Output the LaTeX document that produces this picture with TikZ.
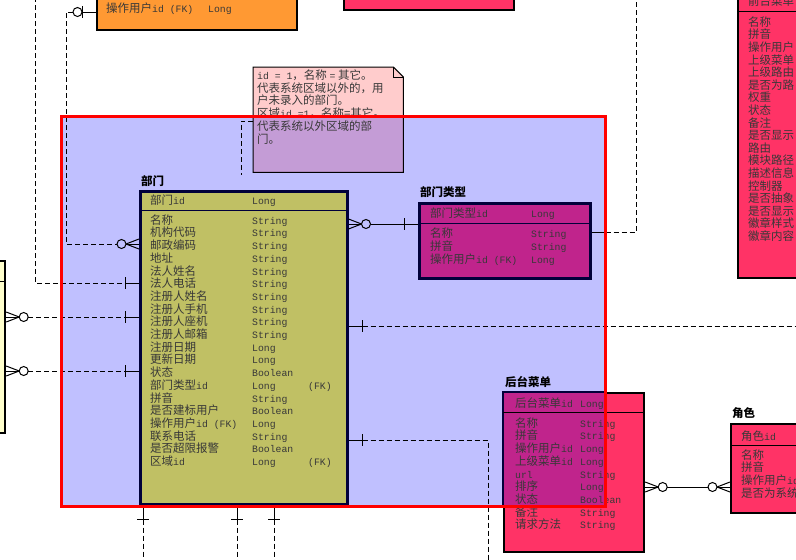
\documentclass[tikz,border=0pt]{standalone}
\usepackage{fontspec}
\setmainfont{Noto Sans CJK SC}
\newfontfamily\ltfont{Liberation Mono}
\usetikzlibrary{calc}
\newcommand\lt[1]{{\ltfont\fontsize{9.8}{12.7}\selectfont #1}}
\definecolor{ovl}{HTML}{C0C0FF}
\definecolor{olive}{HTML}{C0C064}
\definecolor{navyb}{HTML}{00003A}
\definecolor{magt}{HTML}{C0248C}
\definecolor{pinkb}{HTML}{FF3366}
\definecolor{orng}{HTML}{FF9933}
\definecolor{lyel}{HTML}{FFFFCC}
\definecolor{notep}{HTML}{FFCCCC}
\definecolor{notev}{HTML}{C49CD6}
\tikzset{
  txt/.style={inner sep=0pt, anchor=base west, font=\fontsize{11.5}{12.7}\selectfont, text=black!78},
  ttl/.style={inner sep=0pt, anchor=base west, font=\fontsize{11.5}{12.7}\selectfont\bfseries, text=black},
  entbox/.style={draw=black, line width=2.2pt, inner sep=0pt, anchor=north west},
  rel/.style={line width=1pt, draw=black},
  dsh/.style={rel, dash pattern=on 5pt off 3pt},
  sep/.style={line width=1pt},
}
% relationship end marks
\newcommand\oneH[2]{%
  \draw[rel] (#1) -- ($(#1)+(#2*14,0)$);
  \draw[rel] ($(#1)+(#2*14,-6)$) -- ($(#1)+(#2*14,6)$);}
\newcommand\oneV[1]{%
  \draw[rel] (#1) -- ($(#1)+(0,14)$);
  \draw[rel] ($(#1)+(-6,14)$) -- ($(#1)+(6,14)$);}
\newcommand\manyH[2]{%
  \draw[rel] (#1) -- ($(#1)+(#2*13,0)$);
  \draw[rel] ($(#1)+(0,-5)$) -- ($(#1)+(#2*13,0)$) -- ($(#1)+(0,5)$);}
\newcommand\zeroH[4]{%
  \draw[rel, fill=#4] ($(#1)+(#2*#3,0)$) circle[radius=4.5pt];}
\begin{document}
\begin{tikzpicture}[x=1pt,y=-1pt]
\useasboundingbox (0,0) rectangle (796,560);
\fill[white] (0,0) rectangle (796,560);
% overlay background
\fill[ovl] (61,116) rectangle (605,506);

% ---- boxes outside the overlay
\node[entbox, fill=orng, minimum width=200pt, minimum height=90pt] (orange) at (96,-61) {};
\node[entbox, fill=pinkb, minimum width=170pt, minimum height=70pt] (toppink) at (343,-61) {};
\node[entbox, fill=pinkb, minimum width=100pt, minimum height=338pt] (front) at (737,-61) {};
\draw[sep] (front.west |- 0,11) -- (front.east |- 0,11);
\node[entbox, fill=pinkb, minimum width=100pt, minimum height=89pt] (role) at (730,423) {};
\draw[sep] (role.west |- 0,445) -- (role.east |- 0,445);
\node[entbox, fill=lyel, minimum width=60pt, minimum height=172pt] (ly) at (-56,260) {};
\draw[sep] (ly.west |- 0,281) -- (ly.east |- 0,281);

% ---- note
\node[inner sep=0pt, minimum width=150pt, minimum height=105pt, anchor=north west] (note) at (253,67) {};
\fill[notep] (note.north west) -- ($(note.north east)+(-10,0)$) -- ($(note.north east)+(0,10)$) -- (note.south east) -- (note.south west) -- cycle;
\begin{scope}
  \clip (61,116) rectangle (605,506);
  \fill[notev] (note.north west) -- ($(note.north east)+(-10,0)$) -- ($(note.north east)+(0,10)$) -- (note.south east) -- (note.south west) -- cycle;
\end{scope}
\draw[line width=1pt] (note.north west) -- ($(note.north east)+(-10,0)$) -- ($(note.north east)+(0,10)$) -- (note.south east) -- (note.south west) -- cycle;
\draw[line width=0.8pt] ($(note.north east)+(-10,0)$) -- ($(note.north east)+(-10,10)$) -- ($(note.north east)+(0,10)$);

% ---- 后台菜单 (partly under overlay)
\node[entbox, fill=pinkb, minimum width=140pt, minimum height=159pt] (bm) at (503,392) {};
\begin{scope}
  \clip (61,116) rectangle (605,506);
  \fill[magt] (bm.north west) rectangle (bm.south east);
  \draw[navyb, line width=2.2pt] (bm.north west) rectangle (bm.south east);
\end{scope}
\draw[sep] (bm.west |- 0,412) -- (bm.east |- 0,412);

% ---- entities inside overlay
\node[entbox, draw=navyb, line width=2.5pt, fill=olive, minimum width=207pt, minimum height=313pt] (dept) at (139,190) {};
\draw[sep, navyb] (dept.west |- 0,210.7) -- (dept.east |- 0,210.7);
\node[entbox, draw=navyb, line width=2.5pt, fill=magt, minimum width=171pt, minimum height=75pt] (dtype) at (418,202) {};
\draw[sep, navyb] (dtype.west |- 0,223) -- (dtype.east |- 0,223);

% ---- relationships
% orange -> 部门
\coordinate (o1) at (orange.west |- 0,12);
\coordinate (d1) at (dept.west |- 0,244);
\oneH{o1}{-1}
\zeroH{o1}{-1}{18.5}{white}
\manyH{d1}{-1}
\zeroH{d1}{-1}{17.5}{ovl}
\draw[dsh] ($(o1)+(-23,0)$) -- ($(o1)+(-30,0)$) |- ($(d1)+(-22,0)$);
% top-left -> 部门
\coordinate (d2) at (dept.west |- 0,283);
\coordinate (ftop1) at (35,-3);
\oneH{d2}{-1}
\draw[dsh] (ftop1) |- ($(d2)+(-14,0)$);
% left entity -> 部门
\coordinate (l1) at (ly.east |- 0,317);
\coordinate (d3) at (dept.west |- 0,317);
\manyH{l1}{1}
\zeroH{l1}{1}{17.5}{white}
\oneH{d3}{-1}
\draw[dsh] ($(l1)+(22,0)$) -- ($(d3)+(-14,0)$);
\coordinate (l2) at (ly.east |- 0,371);
\coordinate (d4) at (dept.west |- 0,371);
\manyH{l2}{1}
\zeroH{l2}{1}{17.5}{white}
\oneH{d4}{-1}
\draw[dsh] ($(l2)+(22,0)$) -- ($(d4)+(-14,0)$);
% 部门 -> 部门类型
\coordinate (d5) at (dept.east |- 0,224);
\coordinate (t1) at (dtype.west |- 0,224);
\manyH{d5}{1}
\zeroH{d5}{1}{17.5}{ovl}
\oneH{t1}{-1}
\draw[rel] ($(d5)+(22,0)$) -- ($(t1)+(-14,0)$);
% 部门类型 -> up
\coordinate (t2) at (dtype.east |- 0,232);
\coordinate (ftop2) at (636,-3);
\oneH{t2}{1}
\draw[dsh] ($(t2)+(14,0)$) -| (ftop2);
% 部门 -> right
\coordinate (d6) at (dept.east |- 0,326);
\coordinate (fr1) at (800,326);
\oneH{d6}{1}
\draw[dsh] ($(d6)+(14,0)$) -- (fr1);
% 部门 -> down right
\coordinate (d7) at (dept.east |- 0,440);
\coordinate (fb1) at (488,563);
\oneH{d7}{1}
\draw[dsh] ($(d7)+(14,0)$) -| (fb1);
% 部门 bottom
\coordinate (d8) at (dept.south -| 143,0);
\coordinate (d9) at (dept.south -| 237,0);
\coordinate (d10) at (dept.south -| 274,0);
\coordinate (fb2) at (143,563);
\coordinate (fb3) at (237,563);
\coordinate (fb4) at (274,563);
\oneV{d8} \oneV{d9} \oneV{d10}
\draw[dsh] ($(d8)+(0,14)$) -- (fb2);
\draw[dsh] ($(d9)+(0,14)$) -- (fb3);
\draw[dsh] ($(d10)+(0,14)$) -- (fb4);
% 后台菜单 -> 角色
\coordinate (b1) at (bm.east |- 0,487);
\coordinate (r1) at (role.west |- 0,487);
\manyH{b1}{1}
\zeroH{b1}{1}{17.5}{white}
\manyH{r1}{-1}
\zeroH{r1}{-1}{17.5}{white}
\draw[rel] ($(b1)+(22,0)$) -- ($(r1)+(-22,0)$);
% note link
\coordinate (nw) at (note.west |- 0,121);
\coordinate (fn) at (241,175);
\draw[dsh] (nw) -| (fn);

% ---- texts
% orange
\node[txt] (or1) at (106,12.2) {操作用户\lt{id (FK)}};
\node[txt] (or1t) at (208,12.2) {\lt{Long}};
% front menu
\node[txt] (fh) at (748,5) {前台菜单};
\foreach \nm [count=\i from 0] in {名称,拼音,操作用户,上级菜单,上级路由,是否为路,权重,状态,备注,是否显示,路由,模块路径,描述信息,控制器,是否抽象,是否显示,徽章样式,徽章内容}
  \node[txt] (fm\i) at (748,{26.2+\i*12.6}) {\nm};
% note
\foreach \ln [count=\i from 0] in {{\lt{id = 1}，名称 \lt{=} 其它。},{代表系统区域以外的，用},{户未录入的部门。},{区域\lt{id =1}，名称=其它。},{代表系统以外区域的部},{门。}}
  \node[txt] (nt\i) at (257,{79.2+\i*12.8}) {\ln};
% 部门
\node[ttl] (deptt) at (141,185) {部门};
\node[txt] (dh) at (150,204.2) {部门\lt{id}};
\node[txt] (dht) at (252,204.2) {\lt{Long}};
\foreach \nm/\ty [count=\i from 0] in {名称/String, 机构代码/String, 邮政编码/String, 地址/String, 法人姓名/String, 法人电话/String, 注册人姓名/String, 注册人手机/String, 注册人座机/String, 注册人邮箱/String, 注册日期/Long, 更新日期/Long, 状态/Boolean, 部门类型\lt{id}/Long, 拼音/String, 是否建标用户/Boolean, 操作用户\lt{id (FK)}/Long, 联系电话/String, 是否超限报警/Boolean, 区域\lt{id}/Long}
{
  \node[txt] (dn\i) at (150,{224.2+\i*12.7}) {\nm};
  \node[txt] (dt\i) at (252,{224.2+\i*12.7}) {\lt{\ty}};
}
\node[txt] (dfk1) at (308,{224.2+13*12.7}) {\lt{(FK)}};
\node[txt] (dfk2) at (308,{224.2+19*12.7}) {\lt{(FK)}};
% 部门类型
\node[ttl] (dtypet) at (420,196.5) {部门类型};
\node[txt] (th) at (430,217.2) {部门类型\lt{id}};
\node[txt] (tht) at (531,217.2) {\lt{Long}};
\foreach \nm/\ty [count=\i from 0] in {名称/String, 拼音/String, 操作用户\lt{id (FK)}/Long}
{
  \node[txt] (tn\i) at (430,{237.2+\i*13}) {\nm};
  \node[txt] (tt\i) at (531,{237.2+\i*13}) {\lt{\ty}};
}
% 后台菜单
\node[ttl] (bmt) at (505,386.5) {后台菜单};
\node[txt] (bh) at (515,407.2) {后台菜单\lt{id}};
\node[txt] (bht) at (580,407.2) {\lt{Long}};
\foreach \nm/\ty [count=\i from 0] in {名称/String, 拼音/String, 操作用户\lt{id}/Long, 上级菜单\lt{id}/Long, \lt{url}/String, 排序/Long, 状态/Boolean, 备注/String, 请求方法/String}
{
  \node[txt] (bn\i) at (515,{427.2+\i*12.7}) {\nm};
  \node[txt] (bt\i) at (580,{427.2+\i*12.7}) {\lt{\ty}};
}
% 角色
\node[ttl] (rolet) at (732,417.5) {角色};
\node[txt] (rh) at (741,440.2) {角色\lt{id}};
\foreach \nm [count=\i from 0] in {名称,拼音,操作用户\lt{id},是否为系统}
  \node[txt] (rn\i) at (741,{459.2+\i*12.7}) {\nm};

% ---- red frame on top
\draw[red, line width=3pt] (61,116) rectangle (605,506);
\end{tikzpicture}
\end{document}
